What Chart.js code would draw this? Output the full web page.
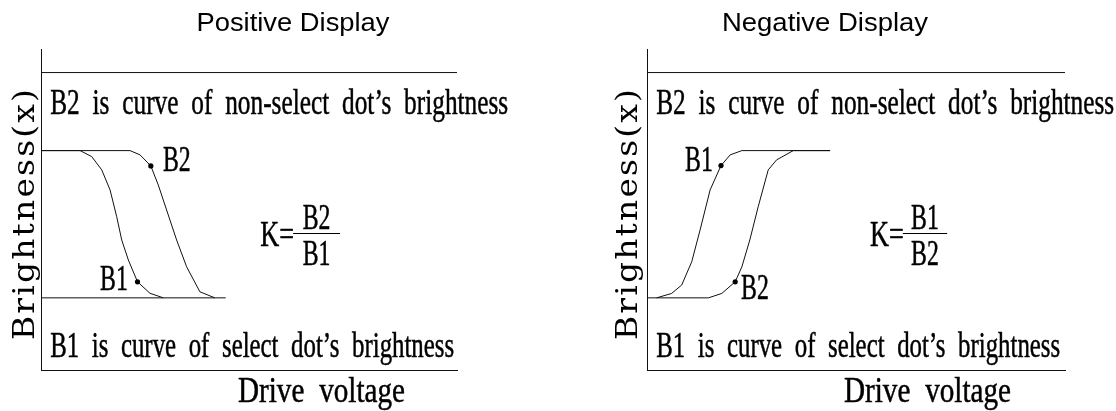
<!DOCTYPE html>
<html>
<head>
<meta charset="utf-8">
<title>Positive / Negative Display</title>
<script src="https://cdn.jsdelivr.net/npm/chart.js@4.4.1/dist/chart.umd.min.js"></script>
<style>
  html, body { margin: 0; padding: 0; background: #fff; }
  .wrap { display: flex; width: 1116px; height: 411px; }
  .panel { width: 558px; height: 411px; }
</style>
</head>
<body>
<div class="wrap">
  <div class="panel"><canvas id="posChart" width="558" height="411"></canvas></div>
  <div class="panel"><canvas id="negChart" width="558" height="411"></canvas></div>
</div>
<script>
// ---- data (drive voltage vs brightness, 0 = dark level, 100 = bright level) ----
var posB1X = [0, 9.4, 12.2, 14.6, 16.6, 18.2, 19.4, 21.0, 23.2, 26.2, 29.4];
var posB1Y = [100, 100, 95.9, 86.9, 73.3, 55.1, 39.3, 25.7, 10.9, 3.1, 0];
var posB2X = [0, 21.4, 23.8, 26.4, 28.2, 30.2, 32.6, 35.0, 38.2, 41.8];
var posB2Y = [100, 100, 97.1, 89.6, 76.6, 59.6, 39.3, 21.1, 4.1, 0];
var posBaseX = [0, 44.4];
var posBaseY = [0, 0];

var negB1X = [2.3, 5.9, 8.3, 10.7, 12.7, 15.1, 17.7, 19.9, 22.7, 43.8];
var negB1Y = [0, 3.0, 8.7, 24.5, 46.1, 73.3, 89.8, 97.1, 100, 100];
var negB2X = [0, 14.7, 17.9, 21.1, 22.7, 24.6, 26.6, 29.0, 31.0, 35.0, 43.8];
var negB2Y = [0, 0, 3.0, 10.9, 21.1, 39.3, 61.9, 86.9, 93.7, 100, 100];

var topLineX = [0, 100];
var topLineY = [153, 153];

// texts
var titles = ["Positive Display", "Negative Display"];
var noteTop = "B2 is curve of non-select dot\u2019s brightness";
var noteBottom = "B1 is curve of select dot\u2019s brightness";
var xTitle = "Drive voltage";
var yTitle = "Brightness(x)";

var SERIF = '35px "Liberation Serif", "Times New Roman", serif';
var SANS = '25px "Liberation Sans", Arial, sans-serif';
var WIDE = '30px "DejaVu Serif", serif';

function pts(xs, ys) {
  return xs.map(function (x, i) { return { x: x, y: ys[i] }; });
}

// small dot only on one point of the curve
function dotAt(n, idx) {
  var r = [];
  for (var i = 0; i < n; i++) r.push(i === idx ? 2.6 : 0);
  return r;
}

function widthOf(ctx, text, font, ws, ls) {
  ctx.save();
  ctx.font = font;
  ctx.wordSpacing = ws || '0px';
  ctx.letterSpacing = ls || '0px';
  var w = ctx.measureText(text).width;
  ctx.restore();
  return w;
}

function drawText(ctx, text, x, y, font, sx, align, ws, ls, bold) {
  ctx.save();
  ctx.font = font;
  ctx.wordSpacing = ws || '0px';
  ctx.letterSpacing = ls || '0px';
  ctx.textAlign = align || 'left';
  ctx.textBaseline = 'alphabetic';
  ctx.translate(x, y);
  ctx.scale(sx, 1);
  ctx.fillText(text, 0, 0);
  if (bold) {
    ctx.lineWidth = bold;
    ctx.strokeText(text, 0, 0);
  }
  ctx.restore();
}

// draw a line of text squeezed/stretched to a given width
function fitText(ctx, text, x, y, font, width, align, ws, ls, bold) {
  drawText(ctx, text, x, y, font, width / widthOf(ctx, text, font, ws, ls), align, ws, ls, bold);
}

var notesPlugin = {
  id: 'notes',
  afterDraw: function (chart, args, o) {
    var ctx = chart.ctx;
    var xs = chart.scales.x, ys = chart.scales.y, area = chart.chartArea;
    ctx.save();
    ctx.fillStyle = '#000';
    ctx.strokeStyle = '#000';

    // squeeze factor of the condensed serif lettering (labels)
    var sx = 0.68;
    var WS = '9px';
    var B = 0.5;

    // title
    fitText(ctx, o.title, o.titleCenter, 31, SANS, o.titleWidth, 'center');

    // notes inside the plot
    fitText(ctx, noteTop, xs.getPixelForValue(2.2), ys.getPixelForValue(124.9), SERIF, 458, 'left', WS, '0px', B);
    fitText(ctx, noteBottom, xs.getPixelForValue(2.2), ys.getPixelForValue(-39.9), SERIF, 404, 'left', WS, '0px', B);

    // curve labels
    o.labels.forEach(function (l) {
      drawText(ctx, l.text, xs.getPixelForValue(l.x), ys.getPixelForValue(l.y), SERIF, sx, 'left', '0px', '0px', B);
    });

    // K = num / den
    var bx1 = xs.getPixelForValue(o.bar[0]), bx2 = xs.getPixelForValue(o.bar[1]);
    var by = Math.round(ys.getPixelForValue(o.barY)) + 0.5;
    ctx.lineWidth = 1;
    ctx.beginPath();
    ctx.moveTo(bx1, by);
    ctx.lineTo(bx2, by);
    ctx.stroke();
    drawText(ctx, 'K=', bx1 + 1, by + 12, SERIF, 0.75, 'right', '0px', '0px', B);
    drawText(ctx, o.num, (bx1 + bx2) / 2, by - 5, SERIF, sx, 'center', '0px', '0px', B);
    drawText(ctx, o.den, (bx1 + bx2) / 2, by + 31, SERIF, sx, 'center', '0px', '0px', B);

    // axis titles
    fitText(ctx, xTitle, area.left + 197, area.bottom + 31.5, SERIF, 167, 'left', WS, '0px', B);
    ctx.save();
    ctx.translate(area.left + o.yTitleOffset, 213.5);
    ctx.rotate(-Math.PI / 2);
    fitText(ctx, yTitle, 0, 0, WIDE, 253, 'center', '0px', '2px');
    ctx.restore();

    ctx.restore();
  }
};

function lineSet(data, dotIdx) {
  return {
    data: data,
    borderColor: '#111',
    borderWidth: 1,
    pointRadius: dotIdx == null ? 0 : dotAt(data.length, dotIdx),
    pointBackgroundColor: '#000',
    pointBorderWidth: 0,
    tension: 0,
    fill: false
  };
}

function makeChart(id, datasets, padding, notes) {
  var axis = function (min, max) {
    return {
      type: 'linear', min: min, max: max,
      ticks: { display: false },
      grid: { display: false, drawTicks: false, tickLength: 0 },
      border: { display: true, color: '#111', width: 1 }
    };
  };
  return new Chart(id, {
    type: 'line',
    data: { datasets: datasets },
    options: {
      responsive: false,
      animation: false,
      events: [],
      layout: { padding: padding, autoPadding: false },
      plugins: {
        legend: { display: false },
        tooltip: { enabled: false },
        notes: notes
      },
      scales: {
        x: axis(0, 100),
        y: axis(-49, 169)
      }
    },
    plugins: [notesPlugin]
  });
}

makeChart('posChart', [
  lineSet(pts(topLineX, topLineY)),
  lineSet(pts(posBaseX, posBaseY)),
  lineSet(pts(posB1X, posB1Y), 8),
  lineSet(pts(posB2X, posB2Y), 3)
], { left: 41, top: 49, right: 101, bottom: 41 }, {
  title: titles[0], titleCenter: 293, titleWidth: 193, yTitleOffset: -7,
  labels: [{ text: 'B2', x: 29.3, y: 86.2 }, { text: 'B1', x: 14.2, y: 5.3 }],
  bar: [60.6, 71.9], barY: 44, num: 'B2', den: 'B1'
});

makeChart('negChart', [
  lineSet(pts(topLineX, topLineY)),
  lineSet(pts(negB1X, negB1Y), 6),
  lineSet(pts(negB2X, negB2Y), 3)
], { left: 89, top: 49, right: 51, bottom: 41 }, {
  title: titles[1], titleCenter: 267, titleWidth: 206, yTitleOffset: -10,
  labels: [{ text: 'B1', x: 9.1, y: 86.2 }, { text: 'B2', x: 22.5, y: -0.8 }],
  bar: [61.2, 71.8], barY: 44, num: 'B1', den: 'B2'
});
</script>
</body>
</html>
